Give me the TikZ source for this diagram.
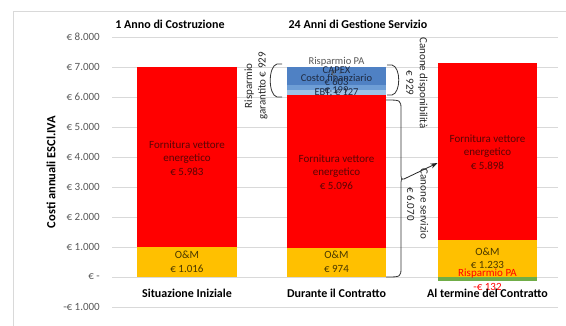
\documentclass[tikz,border=0pt]{standalone}
\usepackage{fontspec}
\setmainfont{Carlito}
\usetikzlibrary{arrows.meta}
\definecolor{gridgray}{HTML}{D9D9D9}
\definecolor{axisgray}{HTML}{595959}
\definecolor{fornred}{HTML}{FF0000}
\definecolor{omyellow}{HTML}{FFC000}
\definecolor{capexblue}{HTML}{4F81C4}
\definecolor{finblue}{HTML}{6E9ED6}
\definecolor{ebtblue}{HTML}{9DC3E6}
\definecolor{savegreen}{HTML}{70AD47}
\definecolor{redtext}{HTML}{5A0505}
\definecolor{yellowtext}{HTML}{4A3800}
\definecolor{bluetext}{HTML}{1F2A40}
\begin{document}
\begin{tikzpicture}[x=1pt, y=-1pt,
  every node/.style={font=\fontsize{11}{13.5}\selectfont, align=center, inner sep=0pt},
  ticklabel/.style={anchor=east, text=axisgray},
  catlabel/.style={font=\fontsize{12}{14}\selectfont\bfseries},
  fornlabel/.style={text=redtext},
  omlabel/.style={text=yellowtext},
  bluelabel/.style={text=bluetext, font=\fontsize{10.5}{12}\selectfont},
  bracetext/.style={text=black!85}]
  \useasboundingbox (0,0) rectangle (566,325);
  \fill[white] (0,0) rectangle (566,325);
  \draw[gridgray] (13,330) -- (13,11) -- (566,11);
  \foreach \y/\t in {37/{€ 8.000}, 67/{€ 7.000}, 97/{€ 6.000}, 127/{€ 5.000},
      157/{€ 4.000}, 187/{€ 3.000}, 217/{€ 2.000}, 247/{€ 1.000}, 277/{€ -}, 307/{-€ 1.000}}
    {\draw[gridgray] (112,\y) -- (558,\y);
     \draw (100,\y) node[ticklabel] (tick\y) {\t};}
  \draw (51,172) node[rotate=90, font=\fontsize{12.5}{14}\selectfont\bfseries] (ytitle) {Costi annuali ESCl.IVA};
  \draw (170,24) node[catlabel] (costruzione) {1 Anno di Costruzione};
  \draw (358,24) node[catlabel] (gestione) {24 Anni di Gestione Servizio};
  \fill[omyellow] (137,277) rectangle (237,246.5);
  \fill[fornred] (137,246.5) rectangle (237,67);
  \fill[omyellow] (287,277) rectangle (386,247.8);
  \fill[fornred] (287,247.8) rectangle (386,94.9);
  \fill[ebtblue] (287,94.9) rectangle (386,89.5);
  \fill[finblue] (287,89.5) rectangle (386,84.5);
  \fill[capexblue] (287,84.5) rectangle (386,67);
  \fill[savegreen] (438,277) rectangle (537,281);
  \fill[omyellow] (438,277) rectangle (537,240);
  \fill[fornred] (438,240) rectangle (537,63.1);
  \draw (187,158) node[fornlabel] (forn1) {Fornitura vettore\\energetico\\€ 5.983};
  \draw (187,262) node[omlabel] (om1) {O\&M\\€ 1.016};
  \draw (336.5,172) node[fornlabel] (forn2) {Fornitura vettore\\energetico\\€ 5.096};
  \draw (336.5,262) node[omlabel] (om2) {O\&M\\€ 974};
  \draw (487.5,152) node[fornlabel] (forn3) {Fornitura vettore\\energetico\\€ 5.898};
  \draw (487.5,258.5) node[omlabel] (om3) {O\&M\\€ 1.233};
  \draw (487.5,279.5) node[text=red] (rispa3) {Risparmio PA\\-€ 132};
  \draw (336.5,67) node[bluelabel, text=axisgray] (rispa2) {Risparmio PA\\€ -};
  \draw (336.5,76) node[bluelabel] (capex) {CAPEX\\€ 603};
  \draw (336.5,84) node[bluelabel] (finanz) {Costo finanziario\\€ 199};
  \draw (336.5,93) node[bluelabel] (ebt) {EBT; € 127};
  \draw (187,293) node[catlabel] (iniziale) {Situazione Iniziale};
  \draw (336.5,293) node[catlabel] (durante) {Durante il Contratto};
  \draw (487.5,293) node[catlabel] (termine) {Al termine del Contratto};
  \draw[thick, black!80] (282,64) -- (277,64) .. controls (268,66) and (268,95) .. (277,97) -- (282,97);
  \draw (256,86) node[rotate=90, bracetext] (garantito) {Risparmio\\garantito € 929};
  \draw[thick, black!80] (387,65) -- (392,65) .. controls (401,67) and (401,93) .. (392,95) -- (387,95);
  \draw (417,83) node[rotate=-90, bracetext] (disponib) {Canone disponibilità\\€ 929};
  \coordinate (servtip) at (404,179);
  \coordinate (bar3in) at (437.5,163);
  \draw[thick, black!80] (386,100) .. controls (401,100) .. (401,110) -- (401,172)
    .. controls (401,179) .. (servtip) .. controls (401,179) .. (401,186)
    -- (401,267) .. controls (401,277) .. (386,277);
  \draw[thick, black!85, -{Stealth[length=7pt, width=5pt]}] (servtip) -- (bar3in);
  \draw (417.5,204) node[rotate=-90, bracetext] (servizio) {Canone servizio\\€ 6.070};
\end{tikzpicture}
\end{document}
